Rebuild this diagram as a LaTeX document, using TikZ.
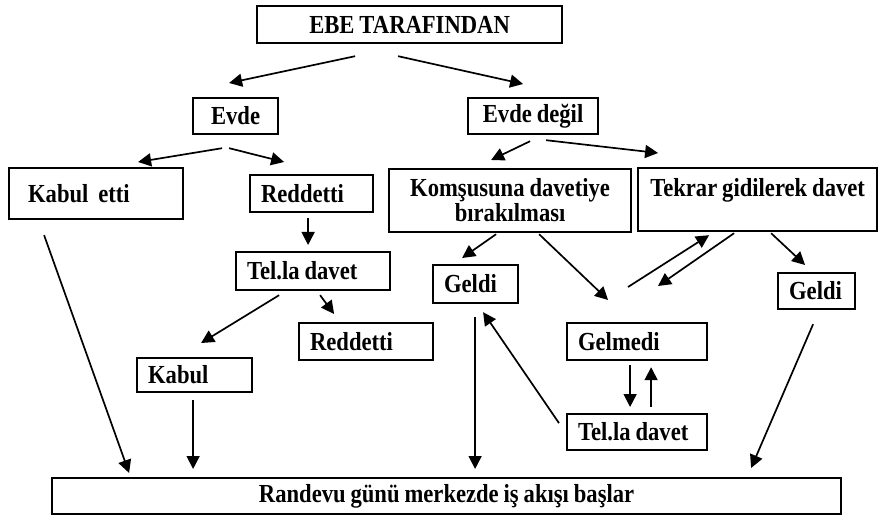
\documentclass[tikz,border=0pt]{standalone}
\usepackage{fontspec}
\setmainfont{Liberation Serif}[FakeStretch=0.87,WordSpace=0.87]
\usetikzlibrary{arrows.meta}

\begin{document}
\begin{tikzpicture}[x=1pt,y=-1pt,
  box/.style={draw=black,line width=2.2pt,anchor=north west,inner xsep=11pt,inner ysep=0pt,
    align=flush left,font=\bfseries\fontsize{26}{25}\selectfont},
  arr/.style={line width=1.7pt,-{Triangle[length=13pt,width=13pt]}}]
\useasboundingbox[fill=white] (0,0) rectangle (881,521);
% boxes
\node[box,align=center,minimum width=305pt,minimum height=37pt] (ebe) at (256,5) {EBE TARAFINDAN};
\node[box,align=center,minimum width=85pt,minimum height=36pt] (evde) at (192,97) {Evde};
\node[box,align=center,minimum width=130pt,minimum height=36pt] (evdedegil) at (467,97) {Evde değil};
\node[box,inner xsep=19pt,minimum width=174pt,minimum height=51pt,text width=136pt] (kabuletti) at (8,167) {Kabul\ \ etti};
\node[box,minimum width=123pt,minimum height=37pt,text width=101pt] (reddetti) at (249,174) {Reddetti};
\node[box,align=center,minimum width=242pt,minimum height=63pt,inner xsep=2pt] (komsu) at (388,168) {Komşusuna davetiye\\bırakılması};
\node[box,align=center,minimum width=239pt,minimum height=63pt,inner xsep=2pt] (tekrar) at (637,167) {Tekrar gidilerek davet\\\mbox{}};
\node[box,minimum width=154pt,minimum height=38pt,text width=132pt] (tella) at (235,251) {Tel.la davet};
\node[box,minimum width=85pt,minimum height=38pt,text width=63pt] (geldi) at (432,264) {Geldi};
\node[box,minimum width=77pt,minimum height=36pt,text width=55pt] (geldib) at (777,272) {Geldi};
\node[box,minimum width=134pt,minimum height=37pt,text width=112pt] (reddettib) at (298,322) {Reddetti};
\node[box,minimum width=140pt,minimum height=37pt,text width=118pt] (gelmedi) at (566,322) {Gelmedi};
\node[box,minimum width=115pt,minimum height=34pt,text width=93pt] (kabul) at (136,357) {Kabul};
\node[box,minimum width=140pt,minimum height=36pt,text width=118pt] (tellab) at (566,413) {Tel.la davet};
\node[box,align=center,minimum width=789pt,minimum height=36pt] (randevu) at (51,477) {Randevu günü merkezde iş akışı başlar};
% free ends between Gelmedi and Tekrar
\coordinate (up) at (628,287);
\coordinate (dn) at (658,286);
% arrows
\draw[arr] ([xshift=-54.5pt,yshift=-12pt]ebe.south) -- ([xshift=-6.5pt,yshift=14pt]evde.north);
\draw[arr] ([xshift=-11.5pt,yshift=-12pt]ebe.south) -- ([xshift=-10pt,yshift=13pt]evdedegil.north);
\draw[arr] ([xshift=-13.5pt,yshift=-13pt]evde.south) -- ([xshift=42pt,yshift=5pt]kabuletti.north);
\draw[arr] ([xshift=-6.5pt,yshift=-13pt]evde.south) -- ([xshift=-27.5pt,yshift=12pt]reddetti.north);
\draw[arr] ([xshift=-3pt,yshift=-6pt]evdedegil.south) -- ([xshift=-19pt,yshift=8pt]komsu.north);
\draw[arr] ([xshift=13pt,yshift=-5pt]evdedegil.south) -- ([xshift=-99.5pt,yshift=14pt]tekrar.north);
\draw[arr] ([xshift=-3.5pt,yshift=-5pt]reddetti.south) -- ([xshift=-5pt,yshift=6pt]tella.north);
\draw[arr] ([xshift=-34pt,yshift=-4pt]tella.south) -- ([xshift=6.5pt,yshift=14pt]kabul.north);
\draw[arr] ([xshift=7pt,yshift=-4pt]tella.south) -- ([xshift=-32pt,yshift=8pt]reddettib.north);
\draw[arr] ([xshift=-52pt,yshift=-15pt]kabuletti.south) -- ([xshift=-317.5pt,yshift=4pt]randevu.north);
\draw[arr] ([xshift=-1.5pt,yshift=-7pt]kabul.south) -- ([xshift=-253.5pt,yshift=8pt]randevu.north);
\draw[arr] ([xshift=-14pt,yshift=-1pt]komsu.south) -- ([xshift=-13.5pt,yshift=6pt]geldi.north);
\draw[arr] ([xshift=29pt,yshift=-1pt]komsu.south) -- ([xshift=-29pt,yshift=22pt]gelmedi.north);
\draw[arr] (up) -- ([xshift=-48.5pt,yshift=-3pt]tekrar.south);
\draw[arr] ([xshift=-23.5pt,yshift=-1pt]tekrar.south) -- (dn);
\draw[arr] ([xshift=13.5pt,yshift=-1pt]tekrar.south) -- ([xshift=-11.5pt,yshift=7pt]geldib.north);
\draw[arr] ([xshift=-0.5pt,yshift=-13pt]geldi.south) -- ([xshift=28.5pt,yshift=8pt]randevu.north);
\draw[arr] ([xshift=-7pt,yshift=9pt]tellab.west) -- ([xshift=7.5pt,yshift=-8pt]geldi.south);
\draw[arr] ([xshift=-7pt,yshift=-4pt]gelmedi.south) -- ([xshift=-7pt,yshift=6pt]tellab.north);
\draw[arr] ([xshift=14pt,yshift=6pt]tellab.north) -- ([xshift=14pt,yshift=-6pt]gelmedi.south);
\draw[arr] ([xshift=-3.5pt,yshift=-14pt]geldib.south) -- ([xshift=304.5pt,yshift=9pt]randevu.north);
\end{tikzpicture}
\end{document}
